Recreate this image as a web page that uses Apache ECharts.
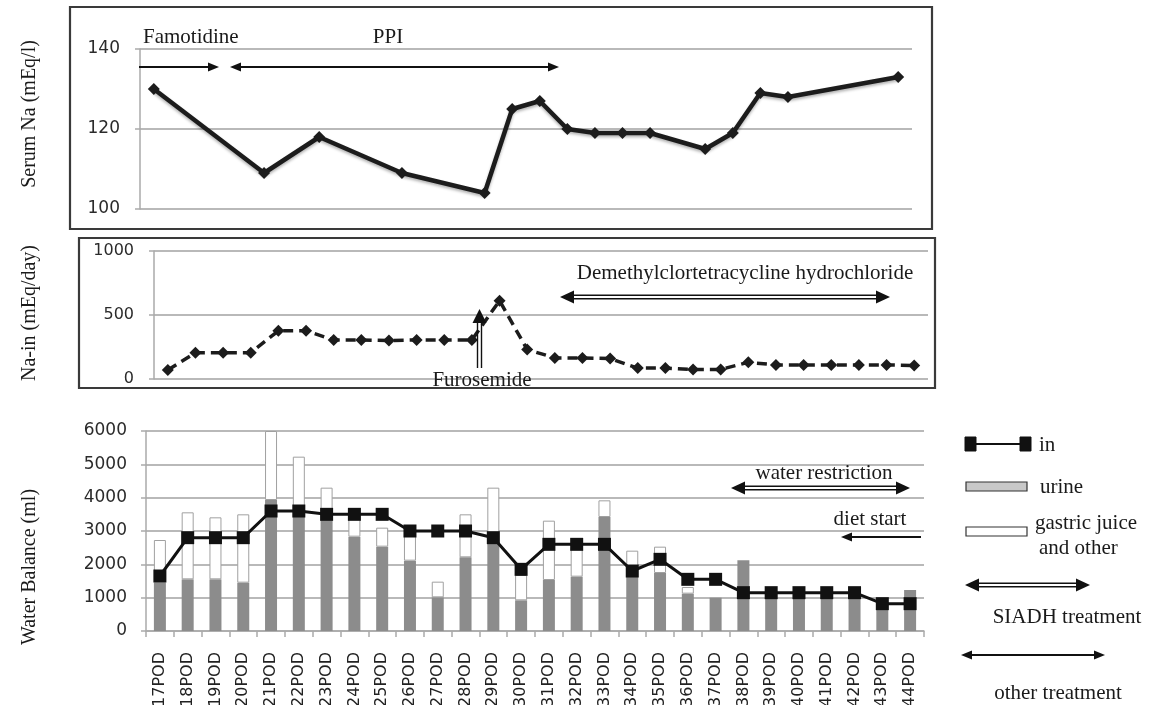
<!DOCTYPE html>
<html>
<head>
<meta charset="utf-8">
<script src="https://cdn.jsdelivr.net/npm/echarts@6/dist/echarts.min.js"></script>
<style>
html,body{margin:0;padding:0;background:#fff;}
#c{width:1154px;height:705px;}
</style>
</head>
<body>
<div id="c"></div>
<script>
// ---------- data ----------
const categories = ['17POD','18POD','19POD','20POD','21POD','22POD','23POD','24POD','25POD','26POD',
  '27POD','28POD','29POD','30POD','31POD','32POD','33POD','34POD','35POD','36POD',
  '37POD','38POD','39POD','40POD','41POD','42POD','43POD','44POD'];
// Serum Na (mEq/l), measured days only
const serumNa = [130, null, null, null, 109, null, 118, null, null, 109, null, null, 104, 125,
  127, 120, 119, 119, 119, null, 115, 119, 129, 128, null, null, null, 133];
// Na intake (mEq/day)
const naIn = [70, 205, 205, 205, 377, 377, 305, 305, 300, 305, 305, 305, 612, 230,
  165, 165, 160, 85, 85, 75, 75, 130, 110, 110, 110, 110, 110, 105];
// Water balance (ml)
const waterIn = [1650, 2800, 2800, 2800, 3600, 3600, 3500, 3500, 3500, 3000, 3000, 3000, 2800, 1850,
  2600, 2600, 2600, 1800, 2150, 1550, 1550, 1150, 1150, 1150, 1150, 1150, 820, 820];
const urine = [1450, 1550, 1550, 1450, 3930, 3430, 3350, 2830, 2530, 2110, 1010, 2210, 2650, 920,
  1530, 1630, 3420, 1640, 1740, 1120, 1000, 2120, 1100, 1100, 1100, 1100, 800, 1230];
const gastricOther = [1280, 2010, 1860, 2050, 2070, 1800, 950, 670, 570, 790, 470, 1290, 1650, 760,
  1780, 870, 500, 770, 790, 200, null, null, null, null, null, null, null, null];
const naTicks = [100, 120, 140];
const naInTicks = [0, 500, 1000];
const waterTicks = [0, 1000, 2000, 3000, 4000, 5000, 6000];

// ---------- styling ----------
const SERIF = 'Liberation Serif';
const SANS = 'DejaVu Sans';
const TXT = '#1a1a1a';
const GRID = '#b9b9b9';

function yAx(gi, min, max, interval, fs, margin) {
  return {
    gridIndex: gi, type: 'value', min: min, max: max, interval: interval,
    axisLine: {show: true, lineStyle: {color: '#aaa', width: 1.5}},
    axisTick: {show: true, length: 5, lineStyle: {color: '#aaa', width: 1.5}},
    axisLabel: {fontFamily: SANS, fontSize: fs, color: '#2b2b2b', margin: margin,
      formatter: function (v) { return String(v); }},
    splitLine: {show: true, lineStyle: {color: GRID, width: 1.8}}
  };
}

// ---------- graphic helpers ----------
const G = [];
function text(x, y, s, opt) {
  opt = opt || {};
  G.push({type: 'text', x: x, y: y, rotation: opt.rot || 0, z: 100,
    style: {text: s, fill: TXT, font: (opt.size || 21) + 'px "' + SERIF + '"',
      textAlign: opt.align || 'left', textVerticalAlign: 'middle'}});
}
function line(x1, y1, x2, y2, w) {
  G.push({type: 'line', z: 100, shape: {x1: x1, y1: y1, x2: x2, y2: y2},
    style: {stroke: '#111', lineWidth: w || 2}});
}
function head(tx, ty, dx, dy, len, wid) {
  const bx = tx - dx * len, by = ty - dy * len;
  const px = -dy * wid / 2, py = dx * wid / 2;
  G.push({type: 'polygon', z: 101, shape: {points: [[tx, ty], [bx + px, by + py], [bx - px, by - py]]},
    style: {fill: '#111'}});
}
function singleArrow(x1, x2, y, left, right) {
  const L = 11, W = 9;
  line(left ? x1 + L - 1 : x1, y, right ? x2 - L + 1 : x2, y, 2.2);
  if (left) head(x1, y, -1, 0, L, W);
  if (right) head(x2, y, 1, 0, L, W);
}
function doubleArrow(x1, x2, y) {
  const L = 14, W = 13;
  line(x1 + L - 1, y - 1.8, x2 - L + 1, y - 1.8, 1.4);
  line(x1 + L - 1, y + 1.8, x2 - L + 1, y + 1.8, 1.4);
  head(x1, y, -1, 0, L, W);
  head(x2, y, 1, 0, L, W);
}
function rect(x, y, w, h, fill, stroke, lw) {
  G.push({type: 'rect', z: 100, shape: {x: x, y: y, width: w, height: h},
    style: {fill: fill, stroke: stroke, lineWidth: lw || 1}});
}

// panel boxes
G.push({type: 'rect', z: 0, shape: {x: 70, y: 7, width: 862, height: 222},
  style: {fill: 'none', stroke: '#3a3a3a', lineWidth: 2.2}});
G.push({type: 'rect', z: 0, shape: {x: 79, y: 238, width: 856, height: 150},
  style: {fill: 'none', stroke: '#3a3a3a', lineWidth: 2.2}});

// axis titles
text(30, 114, 'Serum Na (mEq/l)', {rot: Math.PI / 2, align: 'center', size: 20});
text(30, 313, 'Na-in (mEq/day)', {rot: Math.PI / 2, align: 'center', size: 20});
text(30, 567, 'Water Balance (ml)', {rot: Math.PI / 2, align: 'center', size: 20});

// top annotations
text(143, 37, 'Famotidine');
text(388, 37, 'PPI', {align: 'center'});
singleArrow(139, 219, 67, false, true);
singleArrow(230, 559, 67, true, true);

// middle annotations
text(745, 273, 'Demethylclortetracycline hydrochloride', {align: 'center'});
doubleArrow(560, 890, 297);
line(477.5, 368, 477.5, 320, 1.4);
line(481.5, 368, 481.5, 320, 1.4);
head(479.5, 309, 0, -1, 14, 14);
text(482, 380, 'Furosemide', {align: 'center'});

// bottom annotations
text(824, 473, 'water restriction', {align: 'center'});
doubleArrow(731, 910, 488);
text(870, 519, 'diet start', {align: 'center'});
singleArrow(841, 921, 537, true, false);

// legend
rect(965, 437, 11, 14, '#111', '#111', 1);
rect(1020, 437, 11, 14, '#111', '#111', 1);
line(976, 444, 1020, 444, 2);
text(1039, 445, 'in');
rect(966, 482, 61, 9, '#c8c8c8', '#333', 1.2);
text(1040, 487, 'urine');
rect(966, 527, 61, 9, '#fff', '#333', 1.2);
text(1035, 523, 'gastric juice');
text(1039, 548, 'and other');
doubleArrow(965, 1090, 585);
text(1067, 617, 'SIADH treatment', {align: 'center'});
singleArrow(961, 1105, 655, true, true);
text(1058, 693, 'other treatment', {align: 'center'});

// ---------- chart ----------
const chart = echarts.init(document.getElementById('c'), null, {renderer: 'canvas'});
const option = {
  animation: false,
  backgroundColor: '#fff',
  grid: [
    {left: 140, width: 772, top: 49, height: 160, containLabel: false, outerBoundsMode: 'none'},
    {left: 154, width: 774, top: 251, height: 128, containLabel: false, outerBoundsMode: 'none'},
    {left: 146, width: 778, top: 431, height: 200, containLabel: false, outerBoundsMode: 'none'}
  ],
  xAxis: [
    {gridIndex: 0, type: 'category', data: categories, boundaryGap: true,
      axisLine: {show: false}, axisTick: {show: false}, axisLabel: {show: false}},
    {gridIndex: 1, type: 'category', data: categories, boundaryGap: true,
      axisLine: {show: false}, axisTick: {show: false}, axisLabel: {show: false}},
    {gridIndex: 2, type: 'category', data: categories, boundaryGap: true,
      axisLine: {show: true, lineStyle: {color: '#aaa', width: 1.5}},
      axisTick: {show: true, length: 6, interval: 0, lineStyle: {color: '#aaa', width: 1.5}},
      axisLabel: {interval: 0, rotate: 90, margin: 21, fontFamily: SANS, fontSize: 16, color: '#222'}}
  ],
  yAxis: [
    yAx(0, naTicks[0], naTicks[naTicks.length - 1], naTicks[1] - naTicks[0], 17, 20),
    yAx(1, naInTicks[0], naInTicks[naInTicks.length - 1], naInTicks[1] - naInTicks[0], 16, 20),
    yAx(2, waterTicks[0], waterTicks[waterTicks.length - 1], waterTicks[1] - waterTicks[0], 17, 19)
  ],
  series: [
    {name: 'Serum Na', type: 'line', xAxisIndex: 0, yAxisIndex: 0, data: serumNa, connectNulls: true,
      symbol: 'diamond', symbolSize: 12, z: 5,
      lineStyle: {color: '#1c1c1c', width: 4.5, shadowColor: 'rgba(0,0,0,0.3)', shadowBlur: 3, shadowOffsetY: 2},
      itemStyle: {color: '#1c1c1c'}},
    {name: 'Na-in', type: 'line', xAxisIndex: 1, yAxisIndex: 1, data: naIn,
      symbol: 'diamond', symbolSize: 12, z: 5,
      lineStyle: {color: '#1c1c1c', width: 3.5, type: [10, 6]},
      itemStyle: {color: '#1c1c1c'}},
    {name: 'urine', type: 'bar', xAxisIndex: 2, yAxisIndex: 2, data: urine, stack: 'out',
      barWidth: 12, itemStyle: {color: '#8c8c8c'}},
    {name: 'gastric juice and other', type: 'bar', xAxisIndex: 2, yAxisIndex: 2, data: gastricOther, stack: 'out',
      barWidth: 12, itemStyle: {color: '#ffffff', borderColor: '#a0a0a0', borderWidth: 1}},
    {name: 'in', type: 'line', xAxisIndex: 2, yAxisIndex: 2, data: waterIn,
      symbol: 'rect', symbolSize: 13, z: 6,
      lineStyle: {color: '#111', width: 3}, itemStyle: {color: '#111'}}
  ],
  graphic: G
};
chart.setOption(option);
</script>
</body>
</html>
